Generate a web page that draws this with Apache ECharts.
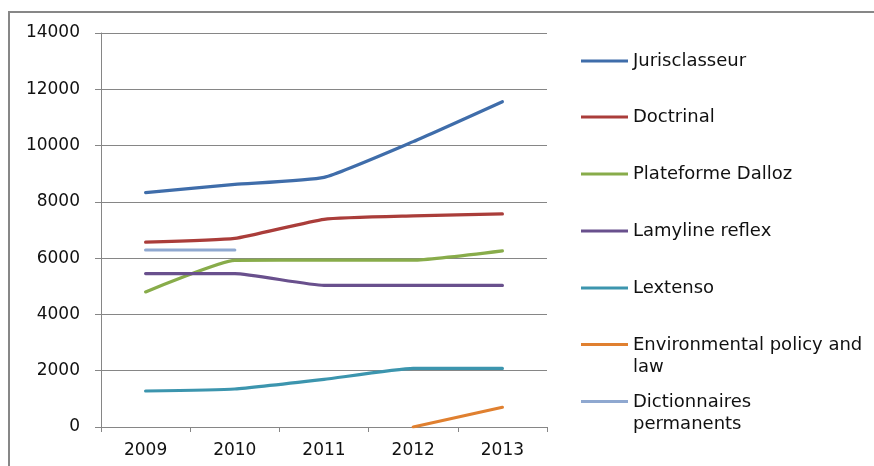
<!DOCTYPE html>
<html>
<head>
<meta charset="utf-8">
<script src="https://cdn.jsdelivr.net/npm/echarts@6/dist/echarts.min.js"></script>
<style>
  html, body { margin: 0; padding: 0; background: #fff; }
  #chart { width: 874px; height: 466px; }
</style>
</head>
<body>
<div id="chart"></div>
<script>
const years = ["2009", "2010", "2011", "2012", "2013"];

const jurisclasseur = [8330, 8620, 8870, 10140, 11560];
const doctrinal = [6570, 6700, 7380, 7500, 7570];
const plateformeDalloz = [4800, 5920, 5930, 5930, 6260];
const lamylineReflex = [5450, 5450, 5030, 5030, 5030];
const lextenso = [1280, 1350, 1690, 2080, 2080];
const environmental = [null, null, null, 0, 700];
const dictionnaires = [6290, 6290, null, null, null];

const seriesDefs = [
  { name: "Jurisclasseur", data: jurisclasseur, color: "#3F6DAA", label: "Jurisclasseur", top: 61 },
  { name: "Doctrinal", data: doctrinal, color: "#AA3D3A", label: "Doctrinal", top: 117 },
  { name: "Plateforme Dalloz", data: plateformeDalloz, color: "#88AC4A", label: "Plateforme Dalloz", top: 174 },
  { name: "Lamyline reflex", data: lamylineReflex, color: "#69508D", label: "Lamyline reflex", top: 231 },
  { name: "Lextenso", data: lextenso, color: "#3C95AE", label: "Lextenso", top: 288 },
  { name: "Environmental policy and law", data: environmental, color: "#E08030", label: "Environmental policy and\nlaw", top: 345 },
  { name: "Dictionnaires permanents", data: dictionnaires, color: "#8FA8D0", label: "Dictionnaires\npermanents", top: 402 }
];

const gridColor = "#868686";
const font = "DejaVu Sans";

// one legend per item so each can sit at its own row
const legends = seriesDefs.map((s) => {
  const twoLines = s.label.includes("\n");
  return {
    data: [s.name],
    orient: "vertical",
    left: 581,
    top: s.top - 11,
    padding: 0,
    itemWidth: 47,
    itemHeight: twoLines ? 26 : 3,
    icon: twoLines
      ? "path://M0,0 L47,0 L47,3 L0,3 Z M0,26 L0.05,26 L0.05,25.95 Z"
      : "rect",
    itemStyle: { borderWidth: 0 },
    selectedMode: false,
    formatter: () => s.label,
    textStyle: { fontFamily: font, fontSize: 18, color: "#111", lineHeight: 22 }
  };
});

const chart = echarts.init(document.getElementById("chart"));
chart.setOption({
  animation: false,
  backgroundColor: "#fff",
  graphic: [
    {
      type: "rect",
      shape: { x: 9, y: 12, width: 900, height: 480 },
      style: { fill: "none", stroke: "#878787", lineWidth: 2 },
      silent: true
    }
  ],
  legend: legends,
  grid: { left: 101, right: 327, top: 33, bottom: 39 },
  xAxis: {
    type: "category",
    data: years,
    boundaryGap: true,
    axisLine: { lineStyle: { color: gridColor, width: 1 } },
    axisTick: { show: true, length: 5, lineStyle: { color: gridColor } },
    axisLabel: { fontFamily: font, fontSize: 17, color: "#111", margin: 15 }
  },
  yAxis: {
    type: "value",
    min: 0,
    max: 14000,
    interval: 2000,
    axisLine: { show: true, lineStyle: { color: gridColor, width: 1 } },
    axisTick: { show: true, length: 6, lineStyle: { color: gridColor } },
    splitLine: { lineStyle: { color: gridColor, width: 1 } },
    axisLabel: {
      fontFamily: font,
      fontSize: 17,
      color: "#111",
      margin: 21,
      formatter: (v) => String(v)
    }
  },
  series: seriesDefs.map((s) => ({
    name: s.name,
    type: "line",
    data: s.data,
    smooth: 0.15,
    showSymbol: false,
    symbol: "none",
    connectNulls: false,
    color: s.color,
    lineStyle: { color: s.color, width: 3.2, cap: "round" }
  }))
});
</script>
</body>
</html>
